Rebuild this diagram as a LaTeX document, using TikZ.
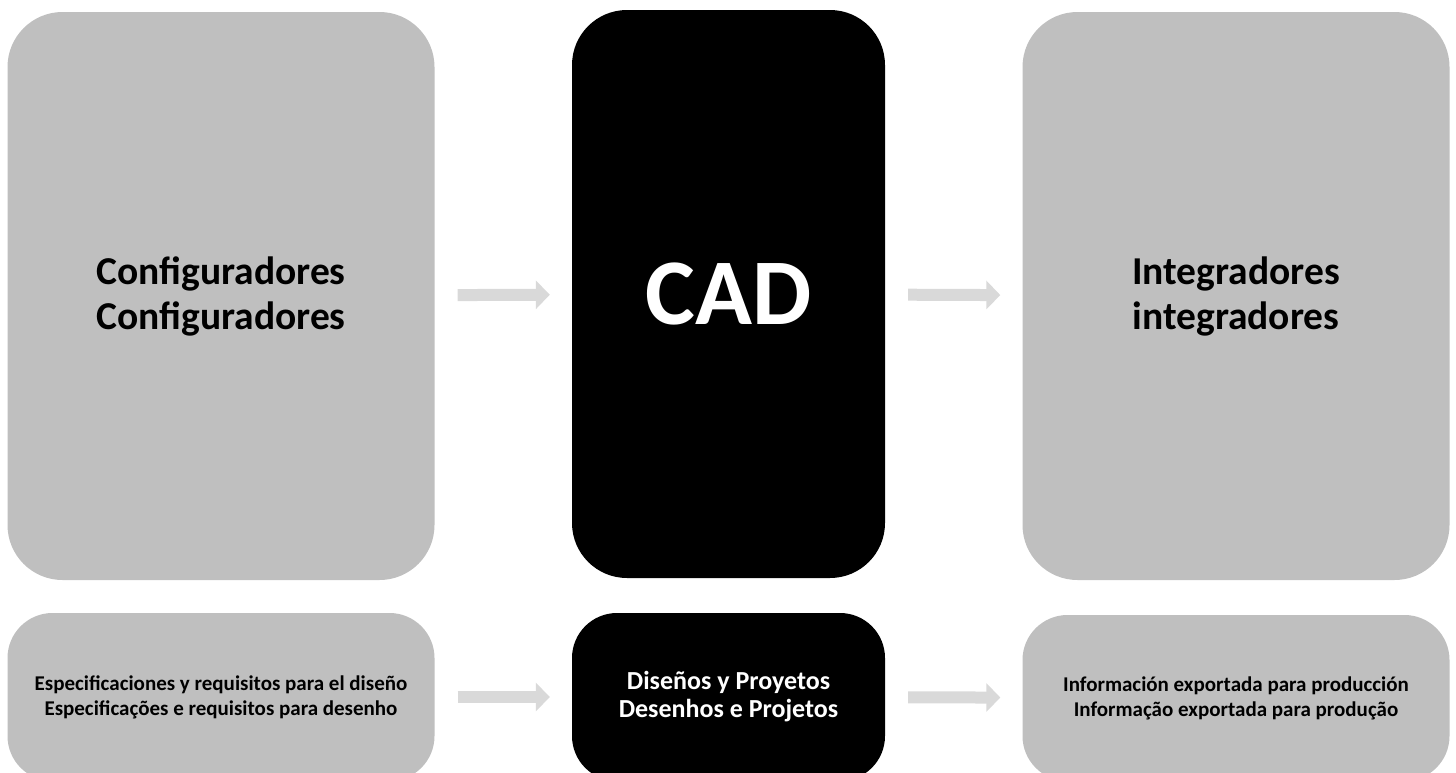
\documentclass[tikz,border=0pt]{standalone}
\usepackage{fontspec}
\setmainfont{Carlito}
\usetikzlibrary{arrows.meta}

\definecolor{boxgray}{HTML}{BFBFBF}
\definecolor{arrowgray}{HTML}{D9D9D9}

\begin{document}
\begin{tikzpicture}[x=1pt, y=-1pt,
      every node/.style = {shape=rectangle, align=center, inner sep=0pt},
      bigbox/.style = {rounded corners=55pt, minimum height=568pt},
      lowbox/.style = {rounded corners=45pt, minimum height=168pt},
      sidebox/.style = {fill=boxgray, text=black, minimum width=427pt},
      midbox/.style = {fill=black, text=white, minimum width=313pt},
      toptext/.style = {font=\fontsize{39.5}{45}\selectfont\bfseries},
      lowtext/.style = {font=\fontsize{21}{25}\selectfont\bfseries},
      flow/.style = {arrowgray, line width=12pt, shorten <=23pt, shorten >=22pt,
        -{Triangle[width=28pt, length=14pt]}}]
      \useasboundingbox (0,0) rectangle (1456,772);
      % top row
      \node[bigbox, sidebox, toptext] (conf) at (221,296)
        {Configuradores\\Configuradores};
      \node[bigbox, midbox, font=\fontsize{94}{100}\selectfont\bfseries] (cad) at (728.5,294)
        {CAD};
      \node[bigbox, sidebox, toptext] (integ) at (1236,296)
        {Integradores\\integradores};
      % bottom row
      \node[lowbox, sidebox, lowtext] (spec) at (221,697)
        {Especificaciones y requisitos para el diseño\\Especificações e requisitos para desenho};
      \node[lowbox, midbox, font=\fontsize{26}{28}\selectfont\bfseries] (proj) at (728.5,697)
        {Diseños y Proyetos\\Desenhos e Projetos};
      \node[lowbox, sidebox, lowtext, minimum height=166pt] (export) at (1236,698)
        {Información exportada para producción\\Informação exportada para produção};
      % arrows
      \draw[flow] (conf) -- (cad);
      \draw[flow] (cad) -- (integ);
      \draw[flow] (spec) -- (proj);
      \draw[flow] (proj) -- (export);
  \end{tikzpicture}
\end{document}
